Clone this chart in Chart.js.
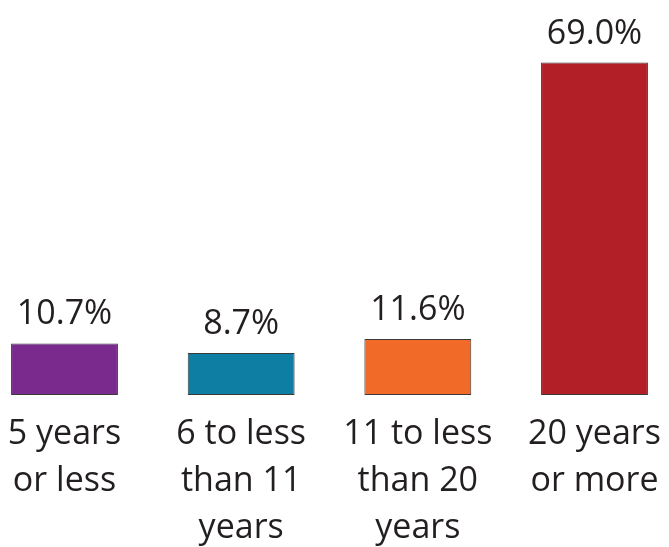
<!DOCTYPE html>
<html>
<head>
<meta charset="utf-8">
<script src="https://cdn.jsdelivr.net/npm/chart.js@4/dist/chart.umd.min.js"></script>
<style>
  html, body { margin: 0; padding: 0; background: #fff; }
  #wrap { width: 669px; height: 547px; position: relative; }
</style>
</head>
<body>
<div id="wrap"><canvas id="mycanvas"></canvas></div>
<script>
var categories = [
  ['5 years', 'or less'],
  ['6 to less', 'than 11', 'years'],
  ['11 to less', 'than 20', 'years'],
  ['20 years', 'or more']
];
var shares = [10.7, 8.7, 11.6, 69.0];
var barColors = ['#7a2a8c', '#0e7fa3', '#f26a28', '#b21f27'];

// percent labels above each bar
var valueLabels = {
  id: 'valueLabels',
  afterDatasetsDraw: function(chart) {
    var ctx = chart.ctx;
    var meta = chart.getDatasetMeta(0);
    ctx.save();
    ctx.font = '34px "Open Sans"';
    ctx.fillStyle = '#231f20';
    ctx.textAlign = 'center';
    ctx.textBaseline = 'alphabetic';
    meta.data.forEach(function(bar, i) {
      ctx.fillText(shares[i].toFixed(1) + '%', bar.x, bar.y - 19);
    });
    ctx.restore();
  }
};

var ctx = document.getElementById('mycanvas');
var barGraph = new Chart(ctx, {
  type: 'bar',
  data: {
    labels: categories,
    datasets: [{
      data: shares,
      backgroundColor: barColors,
      borderColor: '#3a3a3a',
      borderWidth: 1,
      borderSkipped: false,
      categoryPercentage: 1,
      barPercentage: 0.605,
      clip: false
    }]
  },
  options: {
    responsive: true,
    maintainAspectRatio: false,
    animation: false,
    layout: { padding: { left: 64.5, right: 74.5, top: 0, bottom: 0 } },
    plugins: {
      legend: { display: false },
      tooltip: { enabled: false }
    },
    scales: {
      x: {
        offset: false,
        grid: { display: false, drawTicks: false },
        border: { display: false },
        ticks: {
          color: '#231f20',
          padding: 16,
          maxRotation: 0,
          autoSkip: false,
          font: { family: 'Open Sans', size: 34, lineHeight: 1.38 }
        },
        afterFit: function(scale) {
          // labels may hang past the plot edges, no extra side padding
          scale.height = 152;
          scale.paddingLeft = 0;
          scale.paddingRight = 0;
        }
      },
      y: {
        display: false,
        min: 0,
        max: 82
      }
    }
  },
  plugins: [valueLabels]
});
</script>
</body>
</html>
